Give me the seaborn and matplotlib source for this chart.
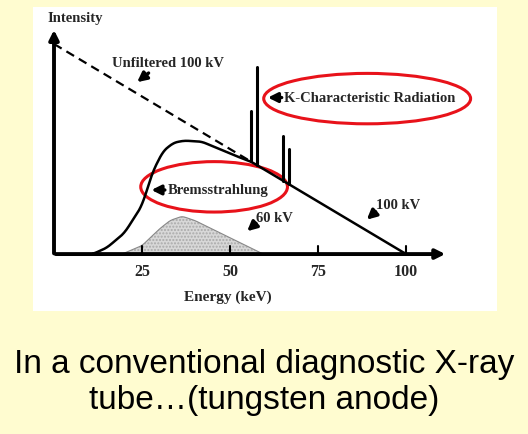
import matplotlib.pyplot as plt
import seaborn as sns
import numpy as np
from matplotlib.patches import Ellipse

# 100 kV filtered spectrum (energy keV, relative intensity)
filt_e = [11, 15, 20, 25, 28, 31, 34, 37, 42, 47, 52, 56, 100]
filt_i = [0.0, 0.03, 0.10, 0.23, 0.39, 0.49, 0.53, 0.54, 0.535, 0.50, 0.465, 0.44, 0.0]
# unfiltered 100 kV
unf_e = [0, 56]
unf_i = [1.0, 0.44]
# 60 kV spectrum
kv60_e = [19.3, 25, 30, 33, 36.4, 40, 59.4]
kv60_i = [0.0, 0.04, 0.12, 0.16, 0.18, 0.16, 0.0]
# characteristic lines (energy, top intensity)
k_e = [55.9, 57.7, 65.0, 66.7]
k_top = [0.68, 0.89, 0.56, 0.50]
ticks = [25, 50, 75, 100]

sns.set_style("white")
plt.rcParams['font.family'] = ['Liberation Serif', 'DejaVu Serif']

fig = plt.figure(figsize=(5.28, 4.35), dpi=100)
fig.patch.set_facecolor('#FFFCD0')
rect = [33 / 528, 1 - 312 / 435, 464 / 528, 304 / 435]
bg = fig.add_axes(rect, zorder=0)
bg.set_facecolor('white')
bg.set_xticks([])
bg.set_yticks([])
for s in bg.spines.values():
    s.set_visible(False)
ax = fig.add_axes(rect, zorder=1)
ax.set_xlim(-5.97, 125.9)
ax.set_ylim(-0.271, 1.176)
ax.axis('off')

def base(e):
    return np.interp(e, filt_e, filt_i)

# 60 kV shaded spectrum
xs = np.linspace(kv60_e[0], kv60_e[-1], 200)
ys = np.interp(xs, kv60_e, kv60_i)
ys = np.convolve(np.pad(ys, 4, mode='edge'), np.ones(9) / 9, mode='valid')
ax.fill_between(xs, 0, ys, facecolor='#d8d8d8', edgecolor='#aaaaaa', hatch='.....', linewidth=0)
sns.lineplot(x=xs, y=ys, ax=ax, color='#888888', linewidth=0.8)

# filtered 100 kV curve
xf = np.linspace(filt_e[0], filt_e[-1], 400)
yf = np.interp(xf, filt_e, filt_i)
yf = np.convolve(np.pad(yf, 5, mode='edge'), np.ones(11) / 11, mode='valid')
sns.lineplot(x=xf, y=yf, ax=ax, color='black', linewidth=1.8)
sns.lineplot(x=unf_e, y=unf_i, ax=ax, color='black', linewidth=1.6, linestyle=(0, (4, 2.5)))

for e, t in zip(k_e, k_top):
    ax.plot([e, e], [base(e), t], color='black', linewidth=2.2)

# axes with arrows
ax.annotate('', xy=(112, 0), xytext=(-0.3, 0),
            arrowprops=dict(arrowstyle='-|>', lw=2.8, color='black', mutation_scale=14))
ax.annotate('', xy=(0, 1.08), xytext=(0, -0.01),
            arrowprops=dict(arrowstyle='-|>', lw=2.8, color='black', mutation_scale=14))
for t in ticks:
    ax.plot([t, t], [0, 0.04], color='black', linewidth=1.5)
    ax.text(t, -0.08, str(t), ha='center', va='center', fontsize=11.5, fontweight='bold')
ax.text(49.5, -0.2, 'Energy (keV)', ha='center', va='center', fontsize=11, fontweight='bold')
ax.text(-1.8, 1.125, 'Intensity', ha='left', va='center', fontsize=10.5, fontweight='bold')

def arrow(x0, y0, x1, y1):
    ax.annotate('', xy=(x1, y1), xytext=(x0, y0),
                arrowprops=dict(arrowstyle='-|>', lw=2.4, color='black', mutation_scale=14))

fs = 10.5
ax.text(16.5, 0.91, 'Unfiltered 100 kV', ha='left', va='center', fontsize=fs, fontweight='bold')
arrow(27.5, 0.87, 23, 0.81)
ax.text(65.5, 0.745, 'K-Characteristic Radiation', ha='left', va='center', fontsize=fs, fontweight='bold')
arrow(65.5, 0.745, 60.0, 0.745)
ax.text(32.3, 0.305, 'Bremsstrahlung', ha='left', va='center', fontsize=fs, fontweight='bold')
arrow(32.3, 0.305, 26.9, 0.305)
ax.text(57.5, 0.175, '60 kV', ha='left', va='center', fontsize=fs, fontweight='bold')
arrow(58.0, 0.155, 54.3, 0.1)
ax.text(91.5, 0.235, '100 kV', ha='left', va='center', fontsize=fs, fontweight='bold')
arrow(92.0, 0.21, 88.3, 0.155)

ax.add_patch(Ellipse((89, 0.74), 58.8, 0.24, fill=False, edgecolor='#e8121a', linewidth=2.2))
ax.add_patch(Ellipse((45.5, 0.32), 41.7, 0.24, fill=False, edgecolor='#e8121a', linewidth=2.2))

fig.text(0.5, 1 - 365 / 435, 'In a conventional diagnostic X-ray', ha='center', va='center',
         fontsize=24, color='black', family=['Liberation Sans', 'DejaVu Sans'])
fig.text(0.5, 1 - 401 / 435, 'tube\u2026(tungsten anode)', ha='center', va='center',
         fontsize=24, color='black', family=['Liberation Sans', 'DejaVu Sans'])

fig.savefig('out.png', dpi=100, facecolor=fig.get_facecolor())
